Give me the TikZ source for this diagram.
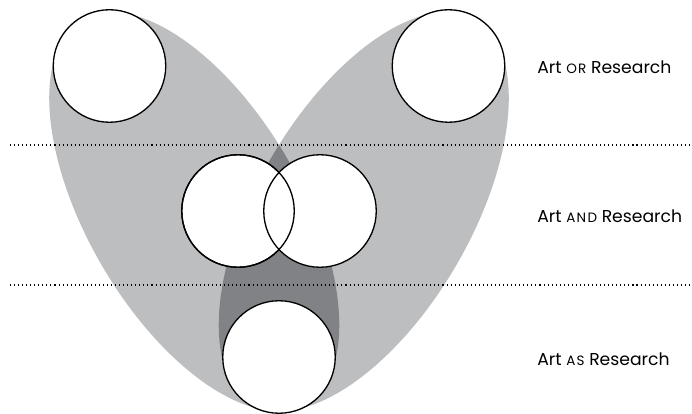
\documentclass[tikz,border=0pt]{standalone}
\usepackage{fontspec}
\setmainfont{Poppins}
\usetikzlibrary{positioning}
\definecolor{lobehell}{HTML}{BDBEC0}
\definecolor{lobedunkel}{HTML}{808285}
\newcommand{\kap}[1]{{\fontsize{7.7}{8}\selectfont\addfontfeatures{LetterSpace=10}#1}}

\begin{document}
\begin{tikzpicture}[
      ring/.style={draw, circle, fill=white, line width=0.75pt,
                   minimum size=2.25cm, inner sep=0pt},
      lobe/.style={fill=lobehell},
      sep/.style={line width=0.6pt, dash pattern=on 0.6pt off 1.7pt},
      stufe/.style={anchor=base west, inner sep=0pt,
                    font=\fontsize{9.8}{12}\selectfont}
    ]
    \useasboundingbox (0,0) rectangle (13.84,8.26);

    % Flächen
    \fill[lobe, rotate around={-59.78:(3.885,4.03)}] (3.885,4.03) ellipse [x radius=4.44, y radius=2.14];
    \fill[lobe, rotate around={59.78:(7.275,4.03)}]  (7.275,4.03) ellipse [x radius=4.44, y radius=2.14];
    \begin{scope}
      \clip[rotate around={-59.78:(3.885,4.03)}] (3.885,4.03) ellipse [x radius=4.44, y radius=2.14];
      \fill[lobedunkel, rotate around={59.78:(7.275,4.03)}] (7.275,4.03) ellipse [x radius=4.44, y radius=2.14];
    \end{scope}

    % Trennlinien
    \coordinate (obenA)  at (0.2,5.36);
    \coordinate (obenB)  at (13.84,5.36);
    \coordinate (untenA) at (0.2,2.56);
    \coordinate (untenB) at (13.84,2.56);
    \draw[sep] (obenA) -- (obenB);
    \draw[sep] (untenA) -- (untenB);

    % Kreise
    \node[ring] (oderL) at (2.19,6.94) {};
    \node[ring] (oderR) at (8.97,6.94) {};
    \node[ring] (undL)  at (4.76,4.04) {};
    \node[ring] (undR)  at (6.40,4.04) {};
    \draw[line width=0.75pt] (undL.center) circle [radius=1.125];
    \node[ring] (als)   at (5.58,1.12) {};

    % Beschriftungen
    \node[stufe] (txtoder) at (10.74,6.79) {Art \kap{OR} Research};
    \node[stufe] (txtund)  at (10.74,3.81) {Art \kap{AND} Research};
    \node[stufe] (txtals)  at (10.74,0.96) {Art \kap{AS} Research};
  \end{tikzpicture}
\end{document}
